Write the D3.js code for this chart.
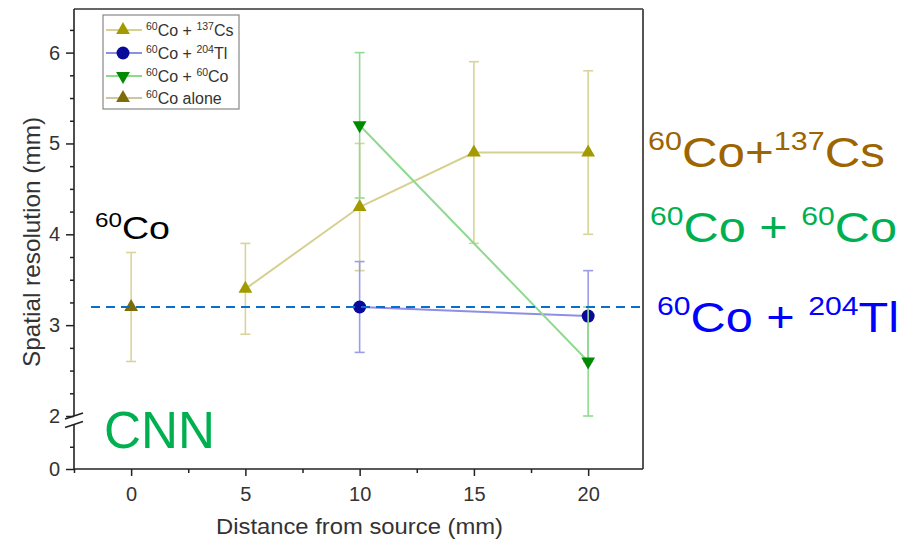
<!DOCTYPE html>
<html>
<head>
<meta charset="utf-8">
<script src="https://cdn.jsdelivr.net/npm/d3@7"></script>
<style>
  body { margin: 0; background: #fff; }
  svg { display: block; font-family: Arial, "Liberation Sans", sans-serif; }
</style>
</head>
<body>
<div id="chart"></div>
<script>
// values
const csX = [5, 10, 15, 20];
const csY = [3.4, 4.3, 4.9, 4.9];
const csLo = [2.9, 3.6, 3.9, 4.0];
const csHi = [3.9, 5.0, 5.9, 5.8];

const tlX = [10, 20];
const tlY = [3.2, 3.1];
const tlLo = [2.7, 2.6];
const tlHi = [3.7, 3.6];

const coX = [10, 20];
const coY = [5.2, 2.6];
const coLo = [4.4, 2.0];
const coHi = [6.0, 3.2];

const aloneX = [0];
const aloneY = [3.2];
const aloneLo = [2.6];
const aloneHi = [3.8];

const refLine = 3.2;

const xTicks = [0, 5, 10, 15, 20];
const xMinor = [-2.5, 2.5, 7.5, 12.5, 17.5];
const yTicks = [0, 2, 3, 4, 5, 6];
const yMinor = [0.25, 2.25, 2.5, 2.75, 3.25, 3.5, 3.75, 4.25, 4.5, 4.75, 5.25, 5.5, 5.75, 6.25];

const width = 900, height = 542;
const pLeft = 74, pRight = 643, pTop = 9, pBottom = 469;

const svg = d3.select('#chart').append('svg')
    .attr('width', width)
    .attr('height', height);

const x = d3.scaleLinear().domain([-2.5, 22.4]).range([pLeft, pRight]);
// broken axis: 0..0.5 below the break, 2..6.48 above
const y = d3.scaleLinear().domain([0, 0.5, 2, 6.48]).range([pBottom, 424.5, 416, pTop]);

function zip(xs, ys, lo, hi) {
    return xs.map((d, i) => ({x: d, y: ys[i], lo: lo[i], hi: hi[i]}));
}

const series = [
    {name: [{t: '60', sup: 1}, {t: 'Co + '}, {t: '137', sup: 1}, {t: 'Cs'}], data: zip(csX, csY, csLo, csHi),
     marker: '#a39a00', line: '#d6d190', bar: '#d8d49c', shape: 'up'},
    {name: [{t: '60', sup: 1}, {t: 'Co + '}, {t: '204', sup: 1}, {t: 'Tl'}], data: zip(tlX, tlY, tlLo, tlHi),
     marker: '#0a0a9a', line: '#8e8ee6', bar: '#9c9ce8', shape: 'circle'},
    {name: [{t: '60', sup: 1}, {t: 'Co + '}, {t: '60', sup: 1}, {t: 'Co'}], data: zip(coX, coY, coLo, coHi),
     marker: '#008a00', line: '#8fd98f', bar: '#92da92', shape: 'down'},
    {name: [{t: '60', sup: 1}, {t: 'Co alone'}], data: zip(aloneX, aloneY, aloneLo, aloneHi),
     marker: '#7e6c08', line: '#cdc6a0', bar: '#d8d49c', shape: 'up'}
];

function drawMarker(g, s, cx, cy) {
    if (s.shape === 'circle') {
        g.append('circle').attr('cx', cx).attr('cy', cy).attr('r', 6.5).attr('fill', s.marker);
    } else {
        g.append('path')
            .attr('d', d3.symbol().type(d3.symbolTriangle).size(82)())
            .attr('transform', `translate(${cx},${cy})` + (s.shape === 'down' ? ' rotate(180)' : ''))
            .attr('fill', s.marker);
    }
}

function richText(g, px, py, parts, o) {
    const t = g.append('text')
        .attr('x', px).attr('y', py)
        .attr('fill', o.color)
        .attr('font-size', o.size)
        .style('white-space', 'pre');
    let shift = 0;
    parts.forEach(p => {
        const target = p.sup ? -o.raise : 0;
        t.append('tspan')
            .attr('dy', target - shift)
            .attr('font-size', p.sup ? o.sup : o.size)
            .text(p.t);
        shift = target;
    });
    if (o.len) t.attr('textLength', o.len).attr('lengthAdjust', 'spacingAndGlyphs');
    return t;
}

// plots
const plot = svg.append('g');
const line = d3.line().x(d => x(d.x)).y(d => y(d.y));

series.forEach(s => {
    const g = plot.append('g');
    s.data.forEach(d => {
        g.append('line').attr('x1', x(d.x)).attr('x2', x(d.x)).attr('y1', y(d.lo)).attr('y2', y(d.hi))
            .attr('stroke', s.bar).attr('stroke-width', 1.6);
        [d.lo, d.hi].forEach(v => {
            g.append('line').attr('x1', x(d.x) - 5).attr('x2', x(d.x) + 5).attr('y1', y(v)).attr('y2', y(v))
                .attr('stroke', s.bar).attr('stroke-width', 1.6);
        });
    });
    g.append('path').datum(s.data).attr('d', line)
        .attr('fill', 'none').attr('stroke', s.line).attr('stroke-width', 2);
    s.data.forEach(d => drawMarker(g, s, x(d.x), y(d.y)));
});

// dashed reference line
svg.append('line')
    .attr('x1', 91).attr('x2', 640)
    .attr('y1', y(refLine)).attr('y2', y(refLine))
    .attr('stroke', '#0a6fc8').attr('stroke-width', 2)
    .attr('stroke-dasharray', '9,6');

// frame
svg.append('line').attr('x1', pLeft).attr('x2', pRight).attr('y1', pTop).attr('y2', pTop)
    .attr('stroke', '#333').attr('stroke-width', 1.5);
svg.append('line').attr('x1', pRight).attr('x2', pRight).attr('y1', pTop).attr('y2', pBottom)
    .attr('stroke', '#555').attr('stroke-width', 2);

// x axis
const xAxisG = svg.append('g').attr('transform', `translate(0,${pBottom})`);
xAxisG.call(d3.axisBottom(x).tickValues(xTicks).tickSize(7).tickPadding(11).tickFormat(d3.format('d')));
xAxisG.append('g').call(d3.axisBottom(x).tickValues(xMinor).tickSize(4).tickFormat(''));
xAxisG.selectAll('.domain').remove();
xAxisG.append('line').attr('x1', pLeft).attr('x2', pRight).attr('stroke', '#222').attr('stroke-width', 1.6);

// y axis
const yAxisG = svg.append('g').attr('transform', `translate(${pLeft},0)`);
yAxisG.call(d3.axisLeft(y).tickValues(yTicks).tickSize(8).tickPadding(6).tickFormat(d3.format('d')));
yAxisG.append('g').call(d3.axisLeft(y).tickValues(yMinor).tickSize(4).tickFormat(''));
yAxisG.selectAll('.domain').remove();
yAxisG.append('line').attr('y1', pBottom).attr('y2', y(0.5)).attr('stroke', '#222').attr('stroke-width', 1.6);
yAxisG.append('line').attr('y1', y(2)).attr('y2', pTop).attr('stroke', '#222').attr('stroke-width', 1.6);
// break marks
[2, 0.5].forEach(v => {
    yAxisG.append('line').attr('x1', -9).attr('x2', 9).attr('y1', y(v) + 3).attr('y2', y(v) - 3)
        .attr('stroke', '#222').attr('stroke-width', 1.4);
});

svg.selectAll('.tick line').attr('stroke', '#222').attr('stroke-width', 1.5);
svg.selectAll('.tick text').attr('font-size', 20).attr('fill', '#333')
    .attr('font-family', 'Arial, "Liberation Sans", sans-serif');

// axis titles
svg.append('text')
    .attr('x', 216).attr('y', 534)
    .attr('font-size', 22).attr('fill', '#333')
    .attr('textLength', 287).attr('lengthAdjust', 'spacingAndGlyphs')
    .text('Distance from source (mm)');
svg.append('text')
    .attr('transform', 'translate(40,367) rotate(-90)')
    .attr('font-size', 24).attr('fill', '#333')
    .attr('textLength', 250).attr('lengthAdjust', 'spacingAndGlyphs')
    .text('Spatial resolution (mm)');

// legend
const lg = svg.append('g');
lg.append('rect').attr('x', 103).attr('y', 15).attr('width', 136).attr('height', 94)
    .attr('fill', '#fff').attr('stroke', '#888').attr('stroke-width', 1.2);
const legendY = [30, 53, 76, 98];
series.forEach((s, i) => {
    const cy = legendY[i];
    lg.append('line').attr('x1', 106).attr('x2', 142).attr('y1', cy).attr('y2', cy)
        .attr('stroke', s.line).attr('stroke-width', 2);
    drawMarker(lg, s, 123, cy);
    richText(lg, 146, cy + 6, s.name, {color: '#333', size: 16, sup: 10.5, raise: 6});
});

// annotations
const sixtyCo = [{t: '60', sup: 1}, {t: 'Co'}];
richText(svg, 95, 239, sixtyCo, {color: '#000', size: 31, sup: 20, raise: 12, len: 75});
richText(svg, 104, 448, [{t: 'CNN'}], {color: '#00b050', size: 52, sup: 0, raise: 0, len: 111});
richText(svg, 648, 167, [{t: '60', sup: 1}, {t: 'Co+'}, {t: '137', sup: 1}, {t: 'Cs'}],
    {color: '#9c6500', size: 42, sup: 26, raise: 17, len: 237});
richText(svg, 650, 242, [{t: '60', sup: 1}, {t: 'Co + '}, {t: '60', sup: 1}, {t: 'Co'}],
    {color: '#00b050', size: 42, sup: 26, raise: 17, len: 247});
richText(svg, 657, 332, [{t: '60', sup: 1}, {t: 'Co + '}, {t: '204', sup: 1}, {t: 'Tl'}],
    {color: '#0000ff', size: 42, sup: 26, raise: 17, len: 242});
</script>
</body>
</html>
